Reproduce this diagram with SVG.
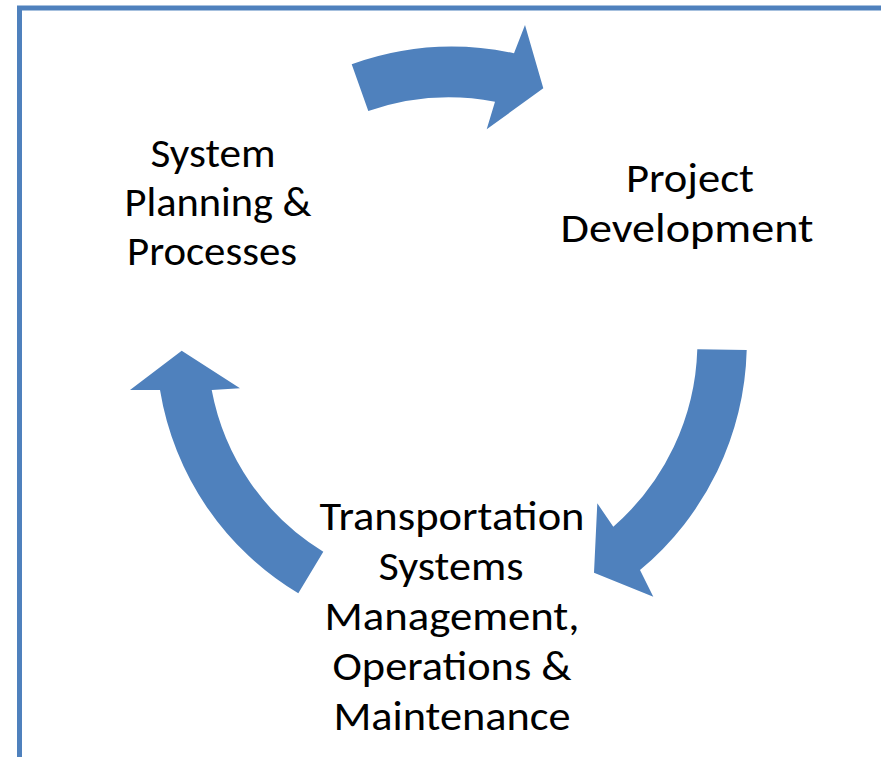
<svg xmlns="http://www.w3.org/2000/svg" width="881" height="757" viewBox="0 0 881 757">
<style>
.frame{fill:none;stroke:#4f81bd;stroke-width:5}
.arrow{fill:#4f81bd;stroke:none}
.lbl{font-family:Carlito,Calibri,"Liberation Sans",sans-serif;font-size:40px;fill:#000;text-anchor:middle}
</style>
<rect x="0" y="0" width="881" height="757" fill="#ffffff"/>
<rect class="frame" x="19.5" y="8" width="900" height="800"/>
<g id="connectors">
<path id="arrow-top" class="arrow" d="M351.7,64.3 A297,297 0 0 1 514,53.3 L525,25 L543.3,88.3 L486.7,129.3 L495,101.7 A247,247 0 0 0 368.3,111 Z"/>
<path id="arrow-right" class="arrow" d="M697.3,349.3 L746.7,350 A296,296 0 0 1 640,570 L653.3,596.7 L594,572.7 L597.3,503.3 L613.3,526.7 A245,245 0 0 0 697.3,349.3 Z"/>
<path id="arrow-left" class="arrow" d="M181.7,350.7 L240,388.3 L211.7,390 A242,242 0 0 0 323.3,551.7 L298.3,593.3 A292,292 0 0 1 160,390 L130,390 Z"/>
</g>
<g id="node-planning">
<text class="lbl" x="213" y="167" textLength="125" lengthAdjust="spacingAndGlyphs">System</text>
<text class="lbl" x="218" y="216" textLength="187" lengthAdjust="spacingAndGlyphs">Planning &amp;</text>
<text class="lbl" x="212" y="265" textLength="170" lengthAdjust="spacingAndGlyphs">Processes</text>
</g>
<g id="node-project">
<text class="lbl" x="690" y="192" textLength="128" lengthAdjust="spacingAndGlyphs">Project</text>
<text class="lbl" x="687" y="242" textLength="253" lengthAdjust="spacingAndGlyphs">Development</text>
</g>
<g id="node-tsmo">
<text class="lbl" x="452" y="530" textLength="265" lengthAdjust="spacingAndGlyphs">Transportation</text>
<text class="lbl" x="451" y="580" textLength="145" lengthAdjust="spacingAndGlyphs">Systems</text>
<text class="lbl" x="452" y="630" textLength="255" lengthAdjust="spacingAndGlyphs">Management,</text>
<text class="lbl" x="452" y="680" textLength="239" lengthAdjust="spacingAndGlyphs">Operations &amp;</text>
<text class="lbl" x="452" y="730" textLength="237" lengthAdjust="spacingAndGlyphs">Maintenance</text>
</g>
</svg>
